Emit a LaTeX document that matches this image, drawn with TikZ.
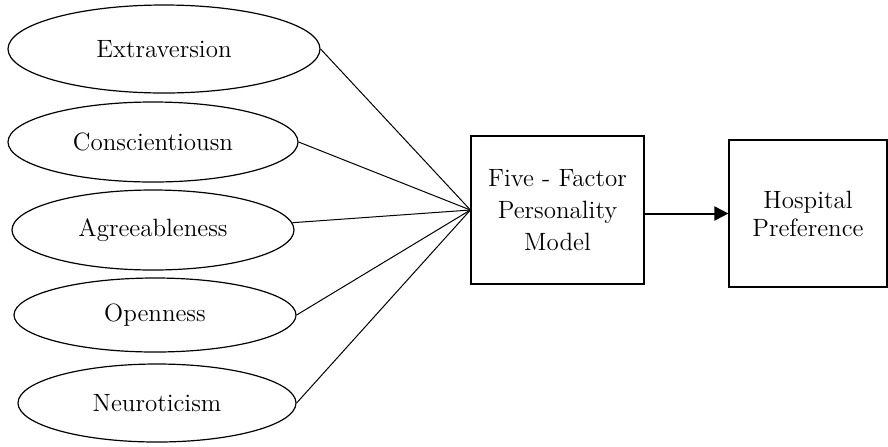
\documentclass[tikz,border=0pt]{standalone}
\usetikzlibrary{shapes.geometric,arrows.meta}
\tikzset{
    trait/.style={ellipse, draw, line width=0.6pt, inner sep=0pt, font=\fontsize{12.5}{16}\selectfont},
    factor/.style={rectangle, draw, line width=0.6pt, align=center, font=\fontsize{12.5}{16}\selectfont}
}
\begin{document}
\begin{tikzpicture}[x=0.5pt, y=-0.5pt]
            \useasboundingbox (0,0) rectangle (888,446);
            \node[trait, minimum width=156pt, minimum height=44pt] (E) at (164,49) {Extraversion};
            \node[trait, minimum width=145pt, minimum height=40pt] (C) at (153,142) {Conscientiousn};
            \node[trait, minimum width=141pt, minimum height=40pt] (A) at (153,230) {Agreeableness};
            \node[trait, minimum width=141pt, minimum height=37pt] (O) at (155,315) {Openness};
            \node[trait, minimum width=139pt, minimum height=39pt] (N) at (157,403) {Neuroticism};

            \node[factor, minimum width=86.5pt, minimum height=74pt] (F) at (557.5,210) {Five - Factor\\Personality\\Model};
            \node[factor, minimum width=79pt, minimum height=73.5pt, font=\fontsize{12.5}{14}\selectfont] (H) at (808,213.5) {Hospital\\Preference};

            \draw[line width=0.5pt] (E.east) -- (F.west);
            \draw[line width=0.5pt] (C.east) -- (F.west);
            \draw[line width=0.5pt] (A.3) -- (F.west);
            \draw[line width=0.5pt] (O.east) -- (F.west);
            \draw[line width=0.5pt] (N.east) -- (F.west);
            \draw[-{Triangle[length=7pt,width=7pt]}, line width=1pt] (F.east |- H.west) -- (H.west);
\end{tikzpicture}
\end{document}
